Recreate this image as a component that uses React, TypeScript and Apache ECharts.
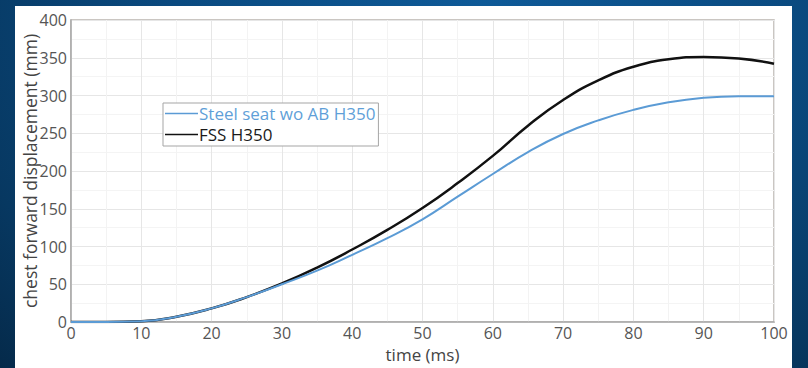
import React, { useEffect, useRef } from "react";
import * as echarts from "echarts";

const times = [0, 5, 10, 15, 20, 25, 30, 35, 40, 45, 50, 55, 60, 65, 70, 75, 80, 85, 90, 95, 100];
const fssH350 = [0, 0, 1, 7, 18, 33, 51, 72, 96, 122, 151, 184, 220, 260, 294, 320, 338, 348, 351, 349, 342];
const steelSeatWoAbH350 = [0, 0, 1, 7, 18, 33, 50, 68, 89, 111, 136, 166, 196, 225, 249, 267, 281, 291, 297, 299, 299];
const seriesNames = ["Steel seat wo AB H350", "FSS H350"];
const xName = "time (ms)";
const yName = "chest forward displacement (mm)";

export default function App() {
  const ref = useRef<HTMLDivElement>(null);
  useEffect(() => {
    document.body.style.margin = "0";
    if (!ref.current) return;
    const chart = echarts.init(ref.current, null, { renderer: "svg" });
    const font = "'Open Sans', 'Noto Sans', sans-serif";
    const lineIcon = "path://M0,0 L33,0 L33,1.6 L0,1.6 Z";
    chart.setOption({
      animation: false,
      backgroundColor: "transparent",
      textStyle: { fontFamily: font },
      grid: {
        left: 71,
        right: 34,
        top: 20,
        bottom: 41,
        show: true,
        backgroundColor: "#ffffff",
        borderColor: "#b9b4af",
        borderWidth: 1.5,
      },
      legend: {
        orient: "vertical",
        left: 163,
        top: 103,
        padding: [2, 3, 3, 2],
        itemGap: 4,
        itemWidth: 33,
        itemHeight: 2,
        icon: lineIcon,
        borderColor: "#a5a5a5",
        borderWidth: 1,
        backgroundColor: "#ffffff",
        textStyle: { fontSize: 17, lineHeight: 16, fontFamily: font, padding: [0, 0, 0, -4] },
        data: [
          { name: seriesNames[0], textStyle: { color: "#5f9fd8" } },
          { name: seriesNames[1], textStyle: { color: "#1a1a1a" } },
        ],
      },
      xAxis: {
        type: "value",
        min: 0,
        max: 100,
        interval: 10,
        name: xName,
        nameLocation: "middle",
        nameGap: 24,
        nameMoveOverlap: false,
        nameTextStyle: { color: "#444", fontSize: 17, fontFamily: font },
        axisLine: { show: true, lineStyle: { color: "#a9a9a9", width: 1.5 } },
        axisTick: { show: false },
        axisLabel: { color: "#555", fontSize: 16, margin: 3, fontFamily: font },
        splitLine: { show: true, lineStyle: { color: "#e6e6e6", width: 1 } },
        minorSplitLine: { show: true, lineStyle: { color: "#f3f3f3", width: 1 } },
        minorTick: { show: false, splitNumber: 2 },
      },
      yAxis: {
        type: "value",
        min: 0,
        max: 400,
        interval: 50,
        name: yName,
        nameLocation: "middle",
        nameGap: 32,
        nameMoveOverlap: false,
        nameTextStyle: { color: "#444", fontSize: 17.5, fontFamily: font },
        axisLine: { show: true, lineStyle: { color: "#a9a9a9", width: 1.5 } },
        axisTick: { show: false },
        axisLabel: { color: "#555", fontSize: 16, margin: 4, fontFamily: font },
        splitLine: { show: true, lineStyle: { color: "#e6e6e6", width: 1 } },
        minorSplitLine: { show: true, lineStyle: { color: "#f4f4f4", width: 1 } },
        minorTick: { show: false, splitNumber: 2 },
      },
      series: [
        {
          name: seriesNames[0],
          type: "line",
          smooth: 0.5,
          symbol: "none",
          z: 3,
          color: "#5b9bd5",
          lineStyle: { color: "#5b9bd5", width: 2 },
          data: times.map((t, i) => [t, steelSeatWoAbH350[i]]),
        },
        {
          name: seriesNames[1],
          type: "line",
          smooth: 0.5,
          symbol: "none",
          z: 2,
          color: "#111111",
          lineStyle: { color: "#111111", width: 2.5 },
          data: times.map((t, i) => [t, fssH350[i]]),
        },
      ],
    });
    return () => chart.dispose();
  }, []);

  return (
    <div
      style={{
        position: "absolute",
        left: 0,
        top: 0,
        width: 808,
        height: 368,
        background:
          "radial-gradient(ellipse at 60% 0%, #0e5a98 0%, #0a4a80 45%, #073861 80%, #052a4a 100%)",
        overflow: "hidden",
      }}
    >
      <div
        style={{
          position: "absolute",
          left: 15,
          top: 6,
          width: 777,
          height: 362,
          background: "#ffffff",
        }}
      />
      <div
        ref={ref}
        style={{ position: "absolute", left: 0, top: 0, width: 808, height: 368 }}
      />
    </div>
  );
}
